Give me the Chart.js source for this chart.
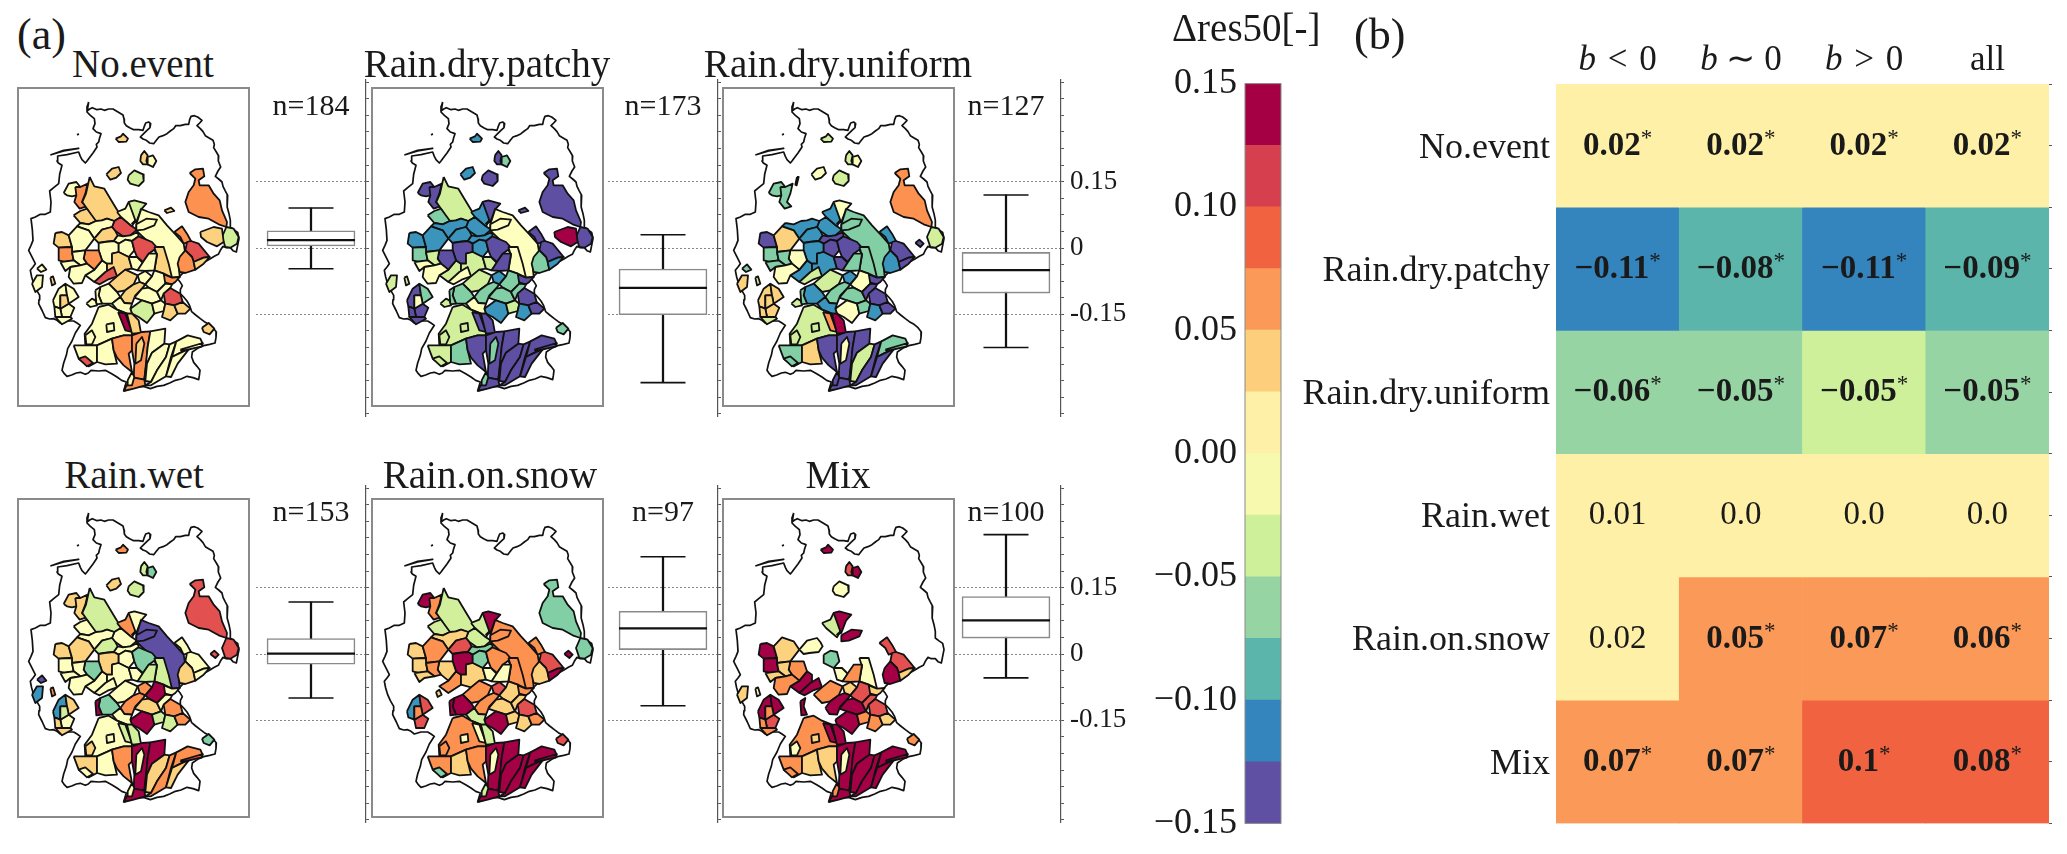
<!DOCTYPE html>
<html lang="en">
<head>
<meta charset="UTF-8">
<title>Delta res50 by event type</title>
<script src="https://cdn.jsdelivr.net/npm/chart.js"></script>
<style>
    html, body { margin: 0; background: #fff; }
    #page { position: relative; width: 2067px; height: 854px; overflow: hidden; font-family: "Liberation Serif", serif; color: #1a1a1a; }
    #page canvas { position: absolute; }
    .label { position: absolute; white-space: nowrap; line-height: 1; z-index: 5; }
</style>
</head>
<body>
<div id="page"></div>
<script>
// ---- data ----
const panelTitles = ['No.event', 'Rain.dry.patchy', 'Rain.dry.uniform', 'Rain.wet', 'Rain.on.snow', 'Mix'];
const sampleCounts = [184, 173, 127, 153, 97, 100];

// box plots, delta res50 per panel
const whiskerHigh = [0.0905, 0.03, 0.12, 0.1176, 0.22, 0.27];
const quartile3 = [0.039, -0.0475, -0.01, 0.035, 0.0965, 0.13];
const medians = [0.018, -0.09, -0.05, 0.001, 0.058, 0.076];
const quartile1 = [0.0045, -0.151, -0.102, -0.023, 0.01, 0.036];
const whiskerLow = [-0.047, -0.3045, -0.225, -0.0995, -0.117, -0.054];
const boxTicks = [-0.375, -0.3375, -0.3, -0.2625, -0.225, -0.1875, -0.15, -0.1125, -0.075, -0.0375, 0, 0.0375, 0.075, 0.1125, 0.15, 0.1875, 0.225, 0.2625, 0.3, 0.3375, 0.375];
const boxLabelled = [-0.15, 0, 0.15];

// colour bar levels, bottom to top
const levelEdges = [-0.15, -0.125, -0.1, -0.075, -0.05, -0.025, 0, 0.025, 0.05, 0.075, 0.1, 0.125, 0.15];
const levelColors = ['#5f50a3', '#3484bd', '#5bb5ab', '#96d4a4', '#cff09a', '#f6f9ae', '#fef0a7', '#fdce7c', '#fb9a58', '#f16340', '#d6404e', '#a50044'];
const colorbarTicks = [-0.15, -0.1, -0.05, 0, 0.05, 0.1, 0.15];

// heat map
const heatRows = ['No.event', 'Rain.dry.patchy', 'Rain.dry.uniform', 'Rain.wet', 'Rain.on.snow', 'Mix'];
const heatColumns = ['b\u2004<\u20040', 'b \u223c 0', 'b\u2004>\u20040', 'all'];
const heatLabels = [
    ['0.02*', '0.02*', '0.02*', '0.02*'],
    ['\u22120.11*', '\u22120.08*', '\u22120.11*', '\u22120.09*'],
    ['\u22120.06*', '\u22120.05*', '\u22120.05*', '\u22120.05*'],
    ['0.01', '0.0', '0.0', '0.0'],
    ['0.02', '0.05*', '0.07*', '0.06*'],
    ['0.07*', '0.07*', '0.1*', '0.08*']
];
const heatLevels = [
    [6, 6, 6, 6],
    [1, 2, 1, 2],
    [3, 3, 4, 3],
    [6, 6, 6, 6],
    [6, 8, 8, 8],
    [8, 8, 9, 9]
];

// map units: 699 x 960 over one map frame
const countryOutline = [215,45,211,58,210,72,218,66,226,62,240,68,252,66,262,70,275,66,288,66,298,72,308,78,318,84,321,96,322,108,328,116,338,122,350,128,365,128,378,130,382,118,386,108,395,105,401,110,399,122,390,130,380,140,370,150,378,156,388,160,398,168,410,170,418,160,426,150,438,146,450,140,460,132,470,125,476,116,490,116,505,112,515,112,518,98,522,88,532,86,542,90,555,100,548,108,540,116,550,125,558,134,565,146,575,152,588,160,592,172,590,182,598,195,605,207,604,222,611,240,603,252,595,268,605,276,615,285,618,298,624,310,632,325,630,342,631,360,636,380,640,400,640,420,650,428,662,436,666,455,662,475,658,495,648,491,640,482,628,482,618,478,610,490,604,502,592,508,580,515,568,522,555,528,540,530,525,536,512,546,500,556,490,566,482,576,490,586,496,596,490,608,490,620,500,630,510,642,518,656,524,674,536,684,550,695,562,704,576,712,588,722,598,735,597,752,594,768,578,772,560,776,542,784,526,795,524,810,530,826,540,838,549,850,547,866,545,878,528,872,510,868,492,876,475,880,458,888,440,895,420,898,400,905,380,898,360,900,340,906,320,912,324,898,328,885,314,880,300,870,284,860,265,850,245,852,222,850,214,858,205,862,190,856,178,858,164,864,150,868,142,860,135,850,140,828,148,805,152,785,165,762,175,738,190,715,180,708,170,702,150,702,130,708,120,700,110,695,98,696,85,692,76,672,65,650,66,638,68,625,58,608,50,590,44,570,40,550,48,540,55,530,46,512,35,490,42,475,48,460,46,428,42,395,55,390,70,382,85,382,100,375,102,345,98,312,110,302,125,290,128,262,135,235,124,228,120,222,122,207,150,203,185,195,190,208,195,218,205,228,210,222,215,215,228,198,240,180,238,172,245,165,248,152,252,140,238,135,228,125,234,110,232,95,220,85,210,75,215,45];
const frisianIslands = [100,204,140,190,185,184,140,192,100,204];
const smallIslet = [182,140,184,142,182,143];

const regionShapes = [
    // isolated in the north
    [296,155,312,148,318,140,333,155,328,164,305,165],
    [372,205,382,192,392,205,388,222,392,232,378,232,370,222],
    [392,210,408,205,418,222,408,240,392,232],
    [268,262,285,245,305,240,312,258,298,272,280,278],
    [335,265,352,250,378,262,380,282,365,297,340,290,332,278],
    [225,270,230,270,224,295,220,293],
    [442,370,462,362,472,372,450,378],
    // east
    [518,258,535,247,558,245,562,268,545,280,548,295,575,295,590,320,608,340,615,370,630,405,628,420,605,412,575,395,545,390,515,375,505,345,515,315,530,295,535,275],
    [628,420,650,425,665,450,660,470,640,482,625,480,615,450],
    [550,435,590,420,615,425,620,465,600,478,570,465,552,450],
    [580,468,592,458,605,470,595,480],
    // north west
    [140,318,155,290,178,285,190,300,178,325,165,328,150,325],
    [175,300,190,300,212,290,205,320,195,345,208,358,188,365,172,345,178,325],
    [218,270,232,298,262,305,280,335,300,368,312,390,292,402,270,395,255,400,235,405,210,365,196,345,207,320],
    [170,385,190,372,210,365,237,402,215,412,190,408],
    [292,402,312,390,345,418,360,428,340,445,318,448,295,432,285,420],
    [300,375,325,365,335,345,352,342,355,400,345,418,312,390],
    [335,345,352,340,388,350,372,368,358,405,345,410,355,400],
    // saale
    [370,365,395,375,425,385,450,415,478,445,500,470,505,500,485,530,488,570,465,572,440,540,418,500,405,475,362,435,358,430,358,412,372,368],
    [358,412,388,395,420,398,412,415,380,428,358,430],
    [472,435,495,418,510,440,522,462,500,470,490,450],
    [510,465,522,462,545,470,578,510,560,512,530,525,525,510,505,490],
    [488,510,505,490,525,510,530,525,535,548,505,558,488,555,482,530],
    [530,525,560,512,578,510,560,530,535,548],
    // fill between the central catchments
    [190,408,215,412,237,402,255,400,270,395,292,402,285,420,255,428,232,455,215,430,180,418],
    [302,445,318,448,340,445,362,435,365,448,345,462,325,458,305,470,290,462],
    [255,520,270,530,270,560,232,585,205,565,232,548],
    // centre west
    [115,438,135,435,155,445,165,480,125,482,110,470],
    [155,445,180,418,215,430,232,455,205,490,165,495,165,480],
    [232,455,255,428,285,420,295,432,302,445,290,462,262,465,245,468],
    [245,468,262,465,290,462,305,470,305,495,285,500,285,530,270,530,255,520,245,490],
    [205,490,245,490,255,520,232,548,210,530,200,515],
    [125,482,165,480,165,495,170,520,145,525,125,520],
    [165,495,205,490,200,515,210,530,190,535,170,520],
    [130,525,170,520,190,535,160,540,145,552],
    [160,540,190,535,210,530,232,548,205,565,195,588,170,590,155,570],
    // centre
    [305,470,325,458,345,462,352,490,335,510,305,495],
    [345,462,365,448,405,465,420,482,395,500,378,525,360,510,352,490],
    [285,500,305,495,335,510,345,545,325,548,300,568,270,560,270,530,285,530],
    [335,510,360,510,378,528,362,550,345,545],
    [412,480,440,480,455,530,465,572,440,560,412,550,420,505],
    [378,525,395,500,420,500,412,550,385,552,362,550],
    [232,585,265,555,290,540,300,568,272,578,248,592],
    [275,590,300,568,325,548,362,565,350,592,325,610,300,615],
    [435,560,465,572,488,570,475,585,465,592,440,585],
    [362,565,385,552,405,568,385,592,368,585],
    [385,592,405,568,412,550,440,560,445,590,420,615,395,602],
    [310,630,325,610,350,592,368,585,385,592,375,605,355,625,345,650,322,648],
    [352,632,375,605,395,602,420,615,432,640,405,650,375,640],
    [420,615,445,590,465,592,460,603,440,620,432,640],
    [440,620,460,603,490,620,497,645,472,655,445,650],
    [340,665,375,640,405,650,412,680,390,708,365,690,345,680],
    [405,650,432,640,445,650,440,672,412,680],
    [440,672,445,650,472,655,482,680,460,700,435,690],
    [472,655,497,645,520,665,505,680,482,680],
    [250,600,275,590,300,615,310,630,285,650,255,650,245,625],
    [235,610,250,600,245,625,255,650,238,652],
    [285,650,310,630,322,648,345,650,340,665,345,680,330,680,300,668],
    [208,650,225,635,235,640,240,655,220,660],
    // south
    [245,660,275,653,300,668,330,680,345,720,345,745,320,745,285,755,240,775,205,775,203,740,225,710],
    [303,675,325,680,345,735,325,730],
    [330,680,345,680,365,700,372,738,345,740],
    [205,745,225,730,235,750,225,772,208,772],
    [268,712,290,708,292,730,270,735],
    [170,775,205,775,240,775,240,825,215,838,185,815],
    [185,815,205,808,228,828,210,838],
    [240,775,285,755,290,790,300,830,265,832,240,825],
    [285,755,320,745,345,745,345,790,335,800,345,855,320,835,300,812,290,790],
    [345,745,375,735,400,733,392,780,388,830,382,878,350,872,352,830,345,790],
    [400,733,445,725,442,770,405,797,390,830,385,882,382,878,392,780],
    [442,770,458,772,447,810,420,850,402,885,385,882,390,830,405,797],
    [458,772,478,763,462,810,447,868,402,895,385,895,402,885,420,850,447,810],
    [478,763,512,745,550,755,557,770,517,785,485,800,465,810],
    [465,810,485,800,517,785,482,830,462,870,447,868],
    [490,788,557,768,555,778,495,792],
    [320,912,332,890,350,872,382,878,385,895,350,905],
    [332,880,345,855,352,870,345,895,330,895],
    [358,770,375,750,382,770,372,820,355,830],
    [555,722,575,708,592,725,578,742,560,735],
    // south west of the rhine
    [108,640,125,605,145,590,150,625,130,625,130,665,112,658],
    [145,590,170,605,185,630,155,650,150,625],
    [130,665,155,650,172,662,160,690,135,690],
    [135,690,160,690,165,695,135,712,115,690],
    [112,658,130,665,135,690,115,690],
    [130,625,150,625,155,650,130,665],
    [45,590,60,565,78,565,75,600,55,615],
    [60,545,75,532,88,548,72,555],
    [100,572,108,568,115,590,105,595],
    [195,582,205,575,212,590,200,597]
];
// class letter per panel for each region above, '.' = not in that panel
const regionClasses = [
    'lbgo.c', 'lpgg.r', 'ymym.c', 'lbyl..', 'gpgg.y', '..y...', 'lp....',
    'oporm.', 'gpgrm.', 'lc....', '..prc.',
    'ypmlc.', 'opmlo.', 'lg.gg.', 'lm.yg.', 'rbbyg.', 'ybbogg', 'gpyycc',
    'yympo.', 'yympoc', 'opbyor', 'rppyrr', 'ombllc', 'lbpycl',
    'ybbyl.', 'ybpym.', 'ygbyoc',
    'lbpllc', 'ybllol', 'lbbgry', 'ypblc.', 'opymlo', 'ommylc', 'ygmyol', 'yymyll', 'yyyy.o',
    'ybpymm', 'rppmo.', 'lgbyl.', 'ygpyyy', 'lymgoy', 'ypmgyo', 'rygy.c', 'lggyoo', 'oppyol', 'ybborl', 'ymyclr',
    'lmmooc', 'ymmllc', 'ympylr', 'rpporr', 'gbyccc', 'ygmglo', 'lbbglo', 'lppool', 'ymbmc.', 'ymmccc', 'yybyg.', 'ygg...',
    'yggyoo', 'cpogyc', 'lpcggc', 'yggloy', 'yggyyl', 'ygmloo', 'rgmymo', 'ymlyll', 'oppool', 'oppccc', 'yppccc', 'ypglcc', 'yppocc', 'ypmocc', 'ypplcc', 'ypmrcc', 'oppccc', 'ympygo', 'lmyyyy', 'lm.mro',
    'yplbbc', 'ymllrc', 'yplyrr', 'ypgl.o', 'ypll.o', 'lylgoo', 'yglb.l', 'y.mp..', 'lggo.y', '....l.'
];
const mapPalette = { p: '#5e4fa2', b: '#3a94bc', m: '#82cfa5', g: '#d2f09c', y: '#feffbe', l: '#fdd27e', o: '#fd9150', r: '#e2504f', c: '#a40046' };

// ---- layout ----
const mapLeft = [17, 371, 722, 17, 371, 722];
const mapTop = [87, 87, 87, 498, 498, 498];
const spineX = [366, 718, 1061, 366, 718, 1061];
const boxTop = [55, 55, 55, 461, 461, 461];
const titleCentre = [143, 487, 838, 134, 490, 838];
const titleBase = [77, 77, 77, 488, 488, 488];
const countBase = [115, 115, 115, 521, 521, 521];

const page = document.getElementById('page');

function addCanvas(left, top, width, height, z) {
    const c = document.createElement('canvas');
    c.width = width;
    c.height = height;
    c.style.left = left + 'px';
    c.style.top = top + 'px';
    c.style.zIndex = z;
    page.appendChild(c);
    return c;
}

function addLabel(text, x, baseline, size, align) {
    const el = document.createElement('div');
    el.className = 'label';
    el.textContent = text;
    el.style.fontSize = size + 'px';
    el.style.top = (baseline - 0.8375 * size) + 'px';
    el.style.left = x + 'px';
    if (align === 'center') el.style.transform = 'translateX(-50%)';
    page.appendChild(el);
}

function toPoints(flat) {
    const pts = [];
    for (let i = 0; i < flat.length; i += 2) pts.push({ x: flat[i], y: flat[i + 1] });
    pts.push({ x: flat[0], y: flat[1] });
    return pts;
}

const baseOptions = {
    responsive: false,
    animation: false,
    events: []
};

// white frame behind and grey frame round the plot area
const framePlugin = {
    id: 'frame',
    beforeDraw(chart, args, opts) {
        const a = chart.chartArea;
        if (opts.fill) {
            chart.ctx.fillStyle = opts.fill;
            chart.ctx.fillRect(a.left, a.top, a.width, a.height);
        }
    },
    afterDraw(chart, args, opts) {
        const a = chart.chartArea, ctx = chart.ctx;
        const i = opts.inset;
        ctx.save();
        ctx.strokeStyle = opts.color;
        ctx.lineWidth = opts.width;
        ctx.strokeRect(a.left + i, a.top + i, a.width - 2 * i, a.height - 2 * i);
        ctx.restore();
    }
};

// ---- maps ----
function drawMap(p) {
    const canvas = addCanvas(mapLeft[p], mapTop[p], 233, 320, 3);
    const datasets = [];
    const outlineStyle = { showLine: true, pointRadius: 0, borderColor: '#111', borderWidth: 1.7, borderJoinStyle: 'round', tension: 0, fill: false };
    datasets.push({ ...outlineStyle, data: toPoints(countryOutline), order: 1000 });
    datasets.push({ ...outlineStyle, data: toPoints(frisianIslands), order: 999 });
    datasets.push({ ...outlineStyle, data: toPoints(smallIslet), order: 998 });
    regionShapes.forEach((shape, i) => {
        const cls = regionClasses[i][p];
        if (!mapPalette[cls]) return;
        datasets.push({
            ...outlineStyle,
            data: toPoints(shape),
            fill: 'shape',
            backgroundColor: mapPalette[cls],
            borderWidth: 1.8,
            order: 900 - i
        });
    });
    new Chart(canvas, {
        type: 'scatter',
        data: { datasets },
        options: {
            ...baseOptions,
            layout: { padding: 0, autoPadding: false },
            plugins: {
                legend: { display: false },
                tooltip: { enabled: false },
                frame: { fill: '#fff', color: '#8a8a8a', width: 2, inset: 1 }
            },
            scales: {
                x: { type: 'linear', min: 0, max: 699, display: false },
                y: { type: 'linear', min: 0, max: 960, reverse: true, display: false }
            }
        },
        plugins: [framePlugin]
    });
    addLabel(panelTitles[p], titleCentre[p], titleBase[p], 39, 'center');
}

// ---- box plots ----
function drawBox(p) {
    const labelled = p === 2 || p === 5;
    const axisWidth = labelled ? 90 : 4;
    const canvas = addCanvas(spineX[p] - 110, boxTop[p], 110 + axisWidth, 386, 1);
    const capStyle = { type: 'line', showLine: false, pointStyle: 'line', pointBorderColor: '#111', pointBorderWidth: 1.6 };
    new Chart(canvas, {
        type: 'bar',
        data: {
            labels: [panelTitles[p]],
            datasets: [
                { ...capStyle, data: [medians[p]], pointRadius: 44, pointBorderWidth: 2.2, order: 1 },
                { ...capStyle, data: [whiskerHigh[p]], pointRadius: 22.5, order: 2 },
                { ...capStyle, data: [whiskerLow[p]], pointRadius: 22.5, order: 2 },
                { data: [[quartile1[p], quartile3[p]]], grouped: false, barThickness: 88, backgroundColor: '#fff', borderColor: '#8a8a8a', borderWidth: 1.6, borderSkipped: false, order: 3 },
                { data: [[whiskerLow[p], whiskerHigh[p]]], grouped: false, barThickness: 1.6, backgroundColor: '#111', order: 4 }
            ]
        },
        options: {
            ...baseOptions,
            layout: { padding: { top: 25, bottom: 25, left: 0, right: 0 }, autoPadding: false },
            plugins: { legend: { display: false }, tooltip: { enabled: false } },
            scales: {
                x: { display: false, offset: true },
                y: {
                    position: 'right',
                    min: -0.38,
                    max: 0.38,
                    afterBuildTicks: s => { s.ticks = boxTicks.map(value => ({ value })); },
                    afterFit: s => { s.width = axisWidth; },
                    ticks: {
                        autoSkip: false,
                        maxRotation: 0,
                        padding: 6,
                        color: '#1a1a1a',
                        font: { family: 'Liberation Serif', size: 27 },
                        callback: v => (labelled && boxLabelled.includes(v)) ? String(v) : ''
                    },
                    grid: {
                        tickLength: 3,
                        tickColor: '#555',
                        color: c => boxLabelled.includes(c.tick.value) ? '#888' : 'rgba(0,0,0,0)',
                        lineWidth: 1
                    },
                    border: { display: true, color: '#555', width: 1.2, dash: [2, 2] }
                }
            }
        }
    });
    addLabel('n=' + sampleCounts[p], spineX[p] - 55, countBase[p], 30, 'center');
}

panelTitles.forEach((t, p) => { drawBox(p); drawMap(p); });

// ---- colour bar ----
new Chart(addCanvas(1130, 54, 153, 799, 2), {
    type: 'bar',
    data: {
        labels: ['level'],
        datasets: levelColors.map((color, i) => ({
            data: [[levelEdges[i], levelEdges[i + 1]]],
            backgroundColor: color,
            grouped: false,
            barPercentage: 1,
            categoryPercentage: 1
        }))
    },
    options: {
        ...baseOptions,
        layout: { padding: { top: 0, bottom: 0, left: 0, right: 2 } },
        plugins: {
            legend: { display: false },
            tooltip: { enabled: false },
            frame: { color: '#8a8a8a', width: 1, inset: 0 }
        },
        scales: {
            x: { display: false, offset: true },
            y: {
                min: -0.15,
                max: 0.15,
                afterBuildTicks: s => { s.ticks = colorbarTicks.map(value => ({ value })); },
                afterFit: s => { s.width = 115; },
                grid: { display: false, drawTicks: false },
                border: { display: false },
                ticks: {
                    autoSkip: false,
                    padding: 8,
                    color: '#1a1a1a',
                    font: { family: 'Liberation Serif', size: 36 },
                    callback: v => (v < 0 ? '\u2212' : '') + Math.abs(v).toFixed(2)
                }
            }
        }
    },
    plugins: [framePlugin]
});

// ---- heat map ----
const heatTextPlugin = {
    id: 'heatText',
    afterDatasetsDraw(chart) {
        const ctx = chart.ctx, xs = chart.scales.x, ys = chart.scales.y;
        ctx.save();
        ctx.fillStyle = '#1a1a1a';
        ctx.textBaseline = 'alphabetic';
        ctx.textAlign = 'left';
        const family = '"Liberation Serif"';
        heatLabels.forEach((row, r) => {
            row.forEach((label, c) => {
                const starred = label.endsWith('*');
                const text = label.replace('*', '');
                const numFont = (starred ? 'bold ' : '') + '33px ' + family;
                const starFont = '23px ' + family;
                ctx.font = numFont;
                const w1 = ctx.measureText(text).width;
                ctx.font = starFont;
                const w2 = starred ? ctx.measureText('*').width : 0;
                const x = xs.getPixelForValue(c) - (w1 + w2) / 2;
                const y = ys.getPixelForValue(r + 0.5) + 9;
                ctx.font = numFont;
                ctx.fillText(text, x, y);
                if (starred) {
                    ctx.font = starFont;
                    ctx.fillText('*', x + w1, y - 10);
                }
            });
        });
        // column heads, only the b is italic
        const top = chart.chartArea.top - 14;
        heatColumns.forEach((head, c) => {
            const mid = xs.getPixelForValue(c);
            const italic = head.startsWith('b');
            const rest = italic ? head.slice(1) : head;
            ctx.font = '35px ' + family;
            const restW = ctx.measureText(rest).width;
            ctx.font = 'italic 35px ' + family;
            const bW = italic ? ctx.measureText('b').width : 0;
            const x = mid - (bW + restW) / 2;
            if (italic) ctx.fillText('b', x, top);
            ctx.font = '35px ' + family;
            ctx.fillText(rest, x + bW, top);
        });
        ctx.restore();
    }
};

new Chart(addCanvas(1280, 30, 787, 821, 2), {
    type: 'bar',
    data: {
        labels: heatColumns,
        datasets: heatRows.map((name, r) => ({
            label: name,
            data: heatColumns.map(() => [r, r + 1]),
            backgroundColor: heatLevels[r].map(l => levelColors[l]),
            grouped: false,
            barPercentage: 1,
            categoryPercentage: 1
        }))
    },
    options: {
        ...baseOptions,
        layout: { padding: { top: 54, bottom: 0, left: 0, right: 14 } },
        plugins: { legend: { display: false }, tooltip: { enabled: false } },
        scales: {
            x: { display: false, offset: true },
            y: {
                min: 0,
                max: 6,
                reverse: true,
                afterBuildTicks: s => { s.ticks = heatRows.map((n, r) => ({ value: r + 0.52 })); },
                afterFit: s => { s.width = 276; },
                grid: { display: false, drawTicks: false },
                border: { display: false },
                ticks: {
                    autoSkip: false,
                    padding: 6,
                    color: '#1a1a1a',
                    font: { family: 'Liberation Serif', size: 36 },
                    callback: v => heatRows[Math.floor(v)]
                }
            },
            y2: {
                position: 'right',
                min: 0,
                max: 6,
                reverse: true,
                afterBuildTicks: s => { s.ticks = heatRows.flatMap((n, r) => [{ value: r }, { value: r + 0.5 }]).concat({ value: 6 }); },
                afterFit: s => { s.width = 4; },
                ticks: { display: false },
                grid: { drawOnChartArea: false, tickLength: 3, tickColor: '#555' },
                border: { display: false }
            }
        }
    },
    plugins: [heatTextPlugin]
});

addLabel('(a)', 17, 50, 44);
addLabel('(b)', 1354, 50, 44);
addLabel('\u0394res50[-]', 1172, 41, 39);
</script>
</body>
</html>
